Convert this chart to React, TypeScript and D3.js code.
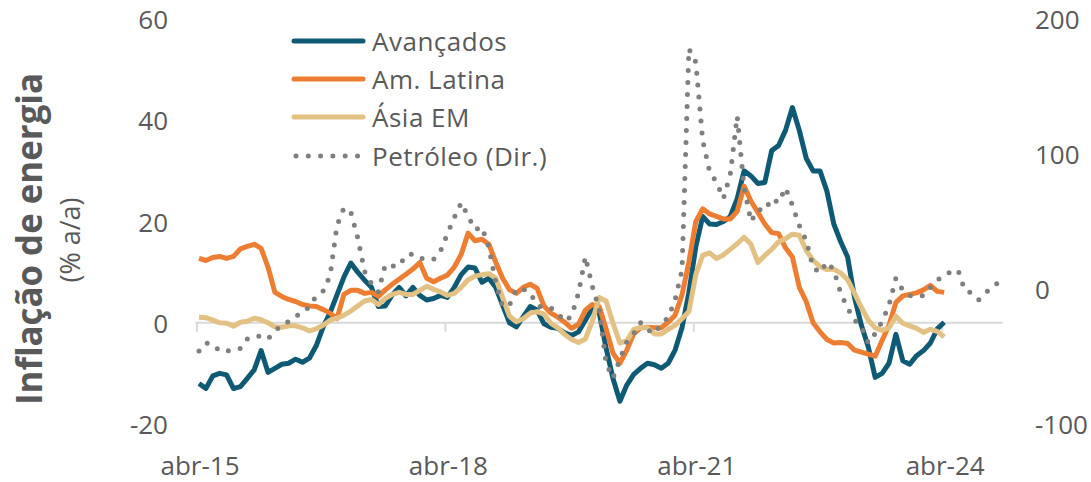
import React, { useRef, useEffect } from "react";
import * as d3 from "d3";

// monthly, starting abr-15
const avancados = [
  -12, -13, -10.5, -10, -10.3, -13, -12.6, -11, -9.3, -5.5, -9.8, -9, -8.2, -8, -7.2, -7.8, -7, -4.5,
  -0.8, 2, 5.5, 9, 11.8, 10, 8.4, 7, 3.2, 3.3, 5.5, 7, 5.3, 7, 5.4, 4.5, 4.8, 5.4,
  5, 7, 9.5, 11, 10.8, 8, 8.8, 7, 3.5, 0, -0.8, 1.2, 3.2, 2.5, -0.2, -0.9, -1.1, -2,
  -2.5, -1.8, 0.5, 2.8, 2, -5, -11, -15.5, -12.3, -10.2, -9, -8, -8.3, -9, -8, -5.4, -1, 6,
  15, 21, 19.5, 19.4, 20, 21, 24.5, 30, 29, 27.5, 27.7, 34, 35, 38, 42.5, 38, 32.5, 30,
  30, 26, 19.5, 16, 13, 5, -0.5, -4.8, -10.8, -10, -8, -2.3, -7.5, -8.2, -6.5, -5.5, -4, -1.2,
  0.1,
];

const amLatina = [
  12.7, 12.3, 12.9, 13.1, 12.7, 13.1, 14.6, 15.1, 15.5, 14.7, 11, 6, 5.2, 4.6, 4.2, 3.6, 3.3, 3.2,
  2.6, 1.9, 0.8, 5.6, 6.4, 6.4, 5.8, 6, 5.2, 6.5, 7.6, 8.6, 9.6, 10.6, 11.9, 8.8, 8.1, 8.8,
  9.4, 11, 13.5, 17.7, 16.2, 16.5, 15.5, 12, 8.8, 6.5, 5.8, 7, 7.6, 6.8, 3.3, 1.9, 1.1, 0.1,
  -1.1, -0.3, 2.5, 3.6, 3.2, -1.2, -6, -8, -5.4, -2.2, -1, -0.9, -1, -1, 0.1, 1.5, 5.5, 12,
  20, 22.5, 21.5, 21, 20.5, 20.5, 22, 27, 24, 21.8, 19.5, 17.8, 17.6, 14.8, 13, 7, 4.2, 0,
  -1.8, -3.3, -4, -3.9, -4.1, -5.4, -5.8, -6.2, -6.6, -3.5, -0.5, 4, 5.3, 5.6, 5.9, 6.5, 7.4, 6.2,
  6,
];

const asiaEM = [
  1.1, 1, 0.5, 0, -0.1, -0.7, 0.1, 0.3, 0.9, 0.6, 0, -0.8, -0.9, -0.6, -0.6, -1, -1.6, -1.2,
  -0.5, 0.5, 0.9, 1.5, 2.3, 3.3, 4.3, 4.6, 3.6, 4.8, 5.6, 6, 5.6, 5.6, 6.4, 7.2, 6.6, 6.1,
  5.4, 5.8, 7, 8.5, 9.2, 9.5, 9.7, 8.8, 5, 1.3, 0.2, 0.8, 1.9, 2.2, 1.7, -0.1, -1, -2.3,
  -3.3, -3.9, -3.2, 0.3, 5, 4.3, -0.1, -4, -3.6, -1.3, -0.9, -1, -2.2, -2.2, -1.3, -0.5, 0.8, 2.2,
  9.5, 13.3, 13.8, 12.7, 13.4, 14.5, 15.6, 16.9, 15.5, 11.9, 13.3, 14.5, 16, 16.6, 17.5, 17.3, 14.3, 12.3,
  11.1, 10.5, 10.6, 9.8, 8.5, 5.8, 3, 0.5, -1, -1.5, -1, 1.3, -0.1, -0.6, -1.1, -1.9, -1.3, -1.7,
  -2.8,
];

// eixo direito
const petroleo = [
  -46, -40, -41, -46, -46, -45, -44, -37, -35, -35, -37, -31, -27, -24, -20, -18, -13, -5,
  -1.5, 10, 47, 60, 57, 38, 13, 4, -2, 18, 17, 17, 25, 26, 23, 22, 22, 28,
  41, 53, 64, 54, 44, 46, 31, 5, -13, -12, 0, 0, -3, -12, -14, -14, -18, -24,
  -20, -3, 24, 2, -15, -55, -66, -52, -39, -33, -25, -30, -33, -26, -21, -8, 14, 178,
  168, 110, 87, 79, 67, 85, 128, 75, 50, 59, 58, 67, 64, 75, 62, 47, 36, 16,
  12, 20, 14, -3, -14, -23, -28, -40, -33, -24, -12, 8, -1, -5, -5, -5, 1, 6.5,
  10, 13, 14, -1, -3, -8, -3, 2, 5,
];

const xTickLabels = ["abr-15", "abr-18", "abr-21", "abr-24"];
const xTickIndex = [0, 36, 72, 108];
const leftTicks = [-20, 0, 20, 40, 60];
const rightTicks = [-100, 0, 100, 200];

const seriesNames = ["Avançados", "Am. Latina", "Ásia EM", "Petróleo (Dir.)"];
const colors = ["#0E5A74", "#ED7D31", "#E2C183", "#7F7F7F"];

const FONT = "'Open Sans', 'Liberation Sans', sans-serif";
const TEXT = "#595959";

export default function App() {
  const svgRef = useRef<SVGSVGElement>(null);

  useEffect(() => {
    const svg = d3.select(svgRef.current);
    svg.selectAll("*").remove();

    const x = d3.scaleLinear().domain([0, 108]).range([199, 944.2]);
    const yL = d3.scaleLinear().domain([-20, 60]).range([424, 19]);
    const yR = d3.scaleLinear().domain([-100, 200]).range([424, 19]);

    // eixo x no zero
    const y0 = yL(0);
    svg
      .append("line")
      .attr("x1", x(-0.5))
      .attr("x2", x(116.5))
      .attr("y1", y0)
      .attr("y2", y0)
      .attr("stroke", "#D9D9D9")
      .attr("stroke-width", 2);

    svg
      .append("g")
      .selectAll("line")
      .data(xTickIndex)
      .join("line")
      .attr("x1", (d) => x(d) - 2)
      .attr("x2", (d) => x(d) - 2)
      .attr("y1", y0)
      .attr("y2", y0 + 9)
      .attr("stroke", "#D9D9D9")
      .attr("stroke-width", 2);

    svg
      .append("g")
      .selectAll("text")
      .data(xTickLabels)
      .join("text")
      .attr("x", (d, i) => x(xTickIndex[i]) + 1)
      .attr("y", 475)
      .attr("text-anchor", "middle")
      .attr("font-family", FONT)
      .attr("font-size", 26)
      .attr("fill", TEXT)
      .text((d) => d);

    // eixos y
    svg
      .append("g")
      .selectAll("text")
      .data(leftTicks)
      .join("text")
      .attr("x", 168)
      .attr("y", (d) => yL(d))
      .attr("text-anchor", "end")
      .attr("dominant-baseline", "central")
      .attr("font-family", FONT)
      .attr("font-size", 26)
      .attr("fill", TEXT)
      .text((d) => d);

    svg
      .append("g")
      .selectAll("text")
      .data(rightTicks)
      .join("text")
      .attr("x", 1035)
      .attr("y", (d) => yR(d))
      .attr("text-anchor", "start")
      .attr("dominant-baseline", "central")
      .attr("font-family", FONT)
      .attr("font-size", 26)
      .attr("fill", TEXT)
      .text((d) => d);

    // título do eixo
    svg
      .append("text")
      .attr("transform", "translate(28,239) rotate(-90)")
      .attr("text-anchor", "middle")
      .attr("dominant-baseline", "central")
      .attr("font-family", FONT)
      .attr("font-size", 35)
      .attr("font-weight", 700)
      .attr("fill", TEXT)
      .attr("textLength", 332)
      .attr("lengthAdjust", "spacingAndGlyphs")
      .text("Inflação de energia");
    svg
      .append("text")
      .attr("transform", "translate(69,240) rotate(-90)")
      .attr("text-anchor", "middle")
      .attr("dominant-baseline", "central")
      .attr("font-family", FONT)
      .attr("font-size", 27)
      .attr("fill", TEXT)
      .text("(% a/a)");

    // linhas
    const lineL = d3
      .line<number>()
      .x((d, i) => x(i))
      .y((d) => yL(d));
    const lineR = d3
      .line<number>()
      .x((d, i) => x(i))
      .y((d) => yR(d));

    [avancados, amLatina, asiaEM].forEach((s, k) => {
      svg
        .append("path")
        .datum(s)
        .attr("d", lineL)
        .attr("fill", "none")
        .attr("stroke", colors[k])
        .attr("stroke-width", 5)
        .attr("stroke-linejoin", "round");
    });

    svg
      .append("path")
      .datum(petroleo)
      .attr("d", lineR)
      .attr("fill", "none")
      .attr("stroke", colors[3])
      .attr("stroke-width", 5)
      .attr("stroke-linecap", "round")
      .attr("stroke-dasharray", "0 12");

    // legenda
    const legend = svg.append("g");
    const rows = [41, 79, 117, 156];
    seriesNames.forEach((name, k) => {
      legend
        .append("line")
        .attr("x1", k === 3 ? 296 : 294)
        .attr("x2", 363)
        .attr("y1", rows[k])
        .attr("y2", rows[k])
        .attr("stroke", colors[k])
        .attr("stroke-width", 5)
        .attr("stroke-linecap", "round")
        .attr("stroke-dasharray", k === 3 ? "0 12.3" : null);
      legend
        .append("text")
        .attr("x", 372)
        .attr("y", rows[k])
        .attr("dominant-baseline", "central")
        .attr("font-family", FONT)
        .attr("font-size", 26)
        .attr("letter-spacing", 0.5)
        .attr("fill", TEXT)
        .text(name);
    });
  }, []);

  return (
    <svg
      ref={svgRef}
      width={1091}
      height={482}
      style={{ position: "absolute", left: 0, top: 0, background: "#fff" }}
    ></svg>
  );
}
